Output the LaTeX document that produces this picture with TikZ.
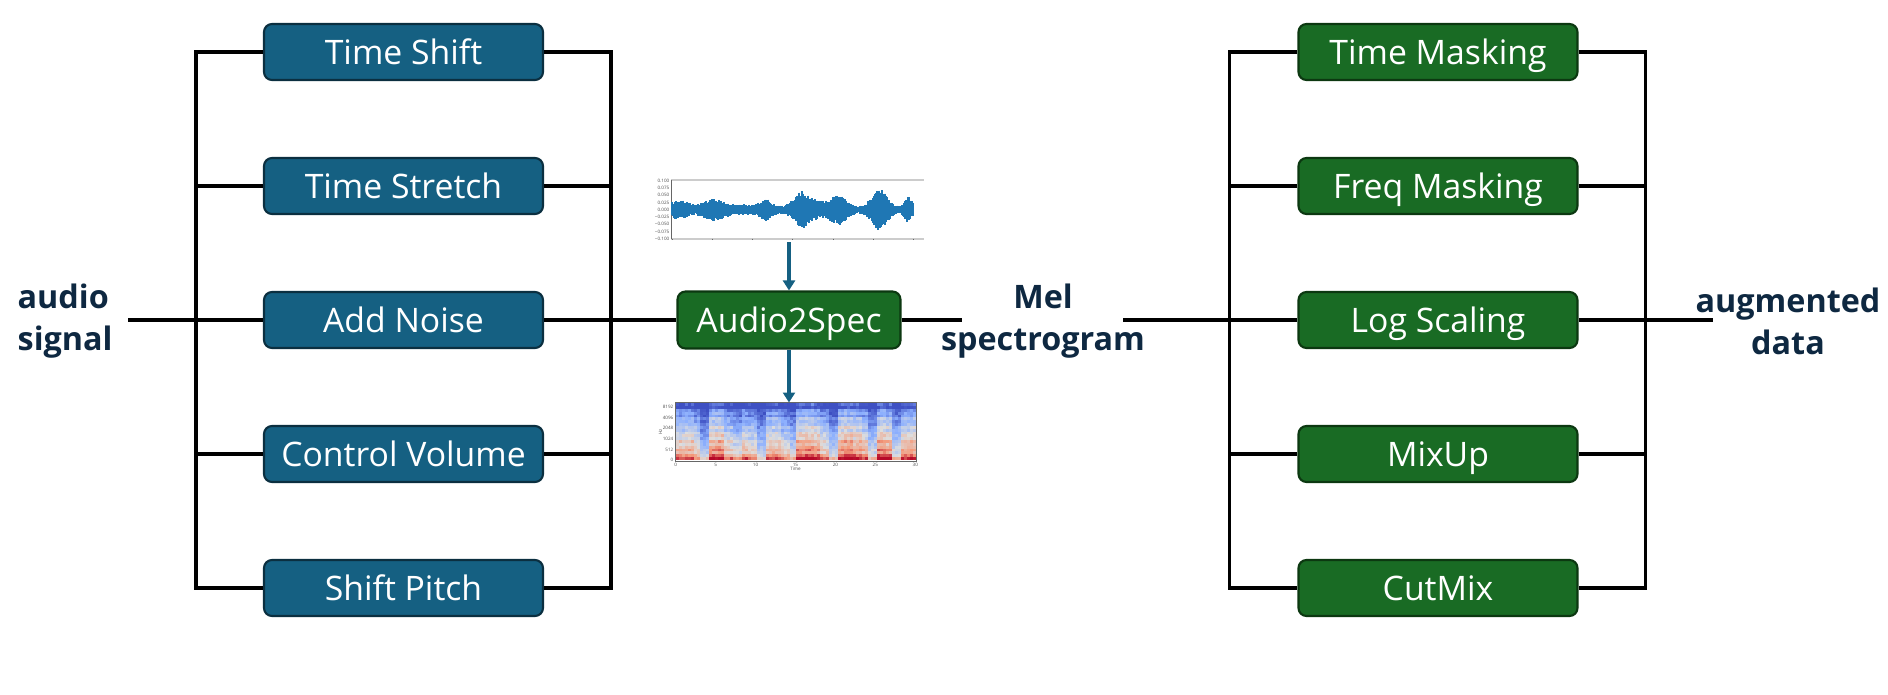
\documentclass[tikz,border=0pt]{standalone}
\usepackage{fontspec}
\setmainfont{Open Sans}
\usetikzlibrary{arrows.meta,calc}
\definecolor{augblue}{HTML}{156082}
\definecolor{augblueline}{HTML}{0B2F40}
\definecolor{auggreen}{HTML}{196B24}
\definecolor{auggreenline}{HTML}{0C3811}
\definecolor{labelnavy}{HTML}{0E2841}
\definecolor{waveblue}{HTML}{1F77B4}
\definecolor{cwblue}{RGB}{59,76,192}
\definecolor{cwlblue}{RGB}{141,176,254}
\definecolor{cwgray}{RGB}{221,221,221}
\definecolor{cwsalmon}{RGB}{244,154,123}
\definecolor{cwred}{RGB}{180,4,38}
\tikzstyle{augbox}=[rectangle, rounded corners=0.8mm, minimum width=2.79cm, minimum height=0.56cm, inner sep=0pt, text height=0.72em, text depth=0pt, line width=0.6pt, draw=augblueline, fill=augblue, text=white, font=\fontsize{9.6}{11}\selectfont]
\tikzstyle{specbox}=[augbox, draw=auggreenline, fill=auggreen]
\tikzstyle{annot}=[align=center, text=labelnavy, inner sep=0pt, font=\fontsize{9.2}{12}\selectfont\bfseries]
\tikzstyle{wire}=[line width=1.05pt, black]
\tikzstyle{flow}=[line width=0.95pt, augblue, -{Triangle[length=1mm,width=1.2mm]}]
\tikzstyle{tick}=[inner sep=0.3pt, text=black!70, font=\fontsize{1.3}{1.5}\selectfont]
\def\specenergy{{0.7,0.75,0.55,0.15,0.9,0.95,0.6,0.4,0.7,0.55,0.2,0.7,0.75,0.5,0.3,0.9,0.95,0.85,0.6,0.25,0.9,0.95,0.85,0.7,0.3,0.95,0.85,0.35,0.75,0.8}}
\newcommand{\drawwave}[0]
{
  \draw[black!20, line width=0.6pt] (wave.north west) -- (wave.north east);
  \draw[black!20, line width=0.6pt] (wave.south west) -- (wave.south east);
  \draw[black!60, line width=0.15pt] (wave.north west) -- (wave.south west);
  \foreach \k [count=\j from 0] in {0.100,0.075,0.050,0.025,0.000,−0.025,−0.050,−0.075,−0.100}
    \node[tick, anchor=east] at (671, 180.7+\j*7.25) {\k};
  \foreach \j in {0,...,6}
    \draw[black!60, line width=0.15pt] (672+\j*40.2, 238.7) -- ++(0,1.5);
  \pgfmathsetseed{7}
  \foreach \i in {0,...,241}
  {
    \pgfmathsetmacro\t{\i/241}
    \pgfmathsetmacro\a{3.5+7*exp(-min(((\t-0.03)/0.045)^2,15))+8*exp(-min(((\t-0.177)/0.06)^2,15))+2*exp(-min(((\t-0.32)/0.08)^2,15))+7*exp(-min(((\t-0.39)/0.03)^2,15))+15*exp(-min(((\t-0.54)/0.045)^2,15))+4*exp(-min(((\t-0.61)/0.04)^2,15))+12*exp(-min(((\t-0.69)/0.045)^2,15))+21*exp(-min(((\t-0.86)/0.04)^2,15))+10*exp(-min(((\t-0.98)/0.02)^2,15))}
    \pgfmathsetmacro\up{\a*(0.6+0.4*rnd)}
    \pgfmathsetmacro\dn{\a*(0.6+0.4*rnd)}
    \draw[waveblue, line width=0.45pt] (672+\i, 209.7-\up) -- (672+\i, 209.7+\dn);
  }
}
\newcommand{\drawspec}[0]
{
  \pgfmathsetseed{11}
  \foreach \c in {0,...,79}
  {
    \pgfmathsetmacro\e{\specenergy[int(\c*30/80)]}
    \foreach \r in {0,...,19}
    {
      \pgfmathsetmacro\f{\r/19}
      \pgfmathsetmacro\v{0.63-0.6*\f+(0.6-0.35*\f)*(\e-0.5)+0.08*sin(\r*137)*\e+0.14*(rnd-0.5)+0.15*(\r==0)-0.1*(\r>17)}
      \pgfmathsetmacro\v{max(0.01,min(0.99,\v))}
      \ifdim\v pt<0.25pt \pgfmathsetmacro\p{400*\v}\def\cc{cwlblue!\p!cwblue}%
      \else\ifdim\v pt<0.5pt \pgfmathsetmacro\p{400*(\v-0.25)}\def\cc{cwgray!\p!cwlblue}%
      \else\ifdim\v pt<0.75pt \pgfmathsetmacro\p{400*(\v-0.5)}\def\cc{cwsalmon!\p!cwgray}%
      \else \pgfmathsetmacro\p{400*(\v-0.75)}\def\cc{cwred!\p!cwsalmon}\fi\fi\fi
      \fill[\cc] (675.7+\c*3, 460-\r*2.84) rectangle ++(3.1,-2.94);
    }
  }
  \draw[black!60, line width=0.15pt] (spec.south west) rectangle (spec.north east);
  \foreach \k [count=\j from 0] in {8192,4096,2048,1024,512,0}
    \node[tick, anchor=east] at (675, 407+\j*10.6) {\k};
  \foreach \k [count=\j from 0] in {0,5,10,15,20,25,30}
    \node[tick] at (675.7+\j*39.93, 464.5) {\k};
  \node[tick, rotate=90] at (660.5, 432) {Hz};
  \node[tick] at (795.5, 468.5) {Time};
}

\begin{document}
\begin{tikzpicture}[x=0.1mm, y=-0.1mm]
	\useasboundingbox (0,0) rectangle (1888,694);

	% audio augmentations
	\node[augbox] (timeshift) at (403.5,52) {Time Shift};
	\node[augbox] (timestretch) at (403.5,186) {Time Stretch};
	\node[augbox] (addnoise) at (403.5,320) {Add Noise};
	\node[augbox] (ctrlvolume) at (403.5,454) {Control Volume};
	\node[augbox] (shiftpitch) at (403.5,588) {Shift Pitch};

	% spectrogram augmentations
	\node[specbox] (timemask) at (1438,52) {Time Masking};
	\node[specbox] (freqmask) at (1438,186) {Freq Masking};
	\node[specbox] (logscale) at (1438,320) {Log Scaling};
	\node[specbox] (mixup) at (1438,454) {MixUp};
	\node[specbox] (cutmix) at (1438,588) {CutMix};

	\node[specbox, minimum width=2.23cm, minimum height=0.57cm] (audiospec) at (789,320) {Audio2Spec};
	\node[inner sep=0pt, minimum width=2.51cm, minimum height=0.58cm] (wave) at (797.5,209.7) {};
	\node[inner sep=0pt, minimum width=2.40cm, minimum height=0.57cm] (spec) at (795.5,431.7) {};
	\drawwave{}
	\drawspec{}

	\node[annot, align=left, anchor=west] (audiolabel) at (17,321) {audio\\signal};
	\node[annot] (mellabel) at (1043,321) {Mel\\spectrogram};
	\node[annot] (auglabel) at (1788,321) {augmented\\data};

	\coordinate (audioin) at (128,320);
	\coordinate (melin) at (962,320);
	\coordinate (melout) at (1123,320);
	\coordinate (augout) at (1713,320);

	% left group
	\draw[wire] (timeshift.west) -- ++(-67,0) |- (shiftpitch.west);
	\draw[wire] (timestretch.west) -- ++(-67,0);
	\draw[wire] (ctrlvolume.west) -- ++(-67,0);
	\draw[wire] (timeshift.east) -- ++(67,0) |- (shiftpitch.east);
	\draw[wire] (timestretch.east) -- ++(67,0);
	\draw[wire] (ctrlvolume.east) -- ++(67,0);
	\draw[wire] (audioin) -- (addnoise.west);
	\draw[wire] (addnoise.east) -- (audiospec.west);
	\draw[wire] (audiospec.east) -- (melin);

	% right group
	\draw[wire] (timemask.west) -- ++(-68,0) |- (cutmix.west);
	\draw[wire] (freqmask.west) -- ++(-68,0);
	\draw[wire] (mixup.west) -- ++(-68,0);
	\draw[wire] (timemask.east) -- ++(67,0) |- (cutmix.east);
	\draw[wire] (freqmask.east) -- ++(67,0);
	\draw[wire] (mixup.east) -- ++(67,0);
	\draw[wire] (melout) -- (logscale.west);
	\draw[wire] (logscale.east) -- (augout);

	\draw[flow] ([yshift=-0.3mm]wave.south -| audiospec.north) -- (audiospec.north);
	\draw[flow] (audiospec.south) -- (spec.north -| audiospec.south);
\end{tikzpicture}
\end{document}
